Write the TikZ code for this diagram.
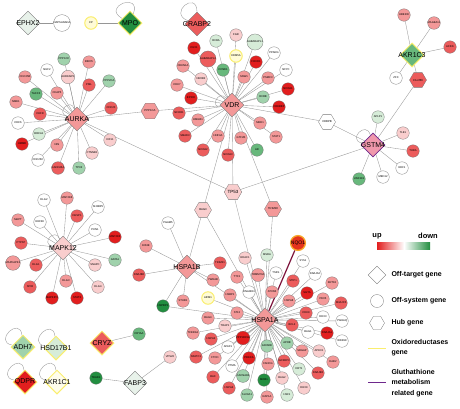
\documentclass[tikz,border=0pt]{standalone}
\usepackage{fontspec}
\setmainfont{Liberation Sans}
\usetikzlibrary{shapes.geometric,backgrounds,positioning}
\definecolor{upA}{RGB}{226,30,30}
\definecolor{upB}{RGB}{236,92,92}
\definecolor{upC}{RGB}{243,152,152}
\definecolor{upD}{RGB}{249,205,205}
\definecolor{dnD}{RGB}{214,236,216}
\definecolor{dnC}{RGB}{160,210,172}
\definecolor{dnB}{RGB}{104,184,124}
\definecolor{dnA}{RGB}{34,142,64}
\definecolor{edgegray}{RGB}{150,150,150}
\definecolor{nodegray}{RGB}{120,120,120}
\definecolor{oxiyellow}{RGB}{250,238,110}
\definecolor{oxifill}{RGB}{255,251,214}
\definecolor{gshpurple}{RGB}{110,40,140}
\definecolor{gshmaroon}{RGB}{125,20,60}
\definecolor{offgreen}{RGB}{232,242,234}

\begin{document}
\begin{tikzpicture}[x=1pt,y=-1pt,
  edge/.style={draw=edgegray, line width=0.35pt},
  gene/.style={circle, draw=nodegray, line width=0.3pt, minimum size=12.5pt, inner sep=0pt, fill=white, font=\fontsize{2.7}{3}\selectfont},
  hub/.style={regular polygon, regular polygon sides=6, draw=nodegray, line width=0.3pt, minimum size=17pt, inner sep=0pt, font=\fontsize{2.8}{3}\selectfont},
  offtarget/.style={diamond, aspect=1, draw=nodegray, line width=0.3pt, minimum size=24pt, inner sep=0pt},
  oxi/.style={draw=oxiyellow, line width=1pt},
  biglabel/.style={font=\fontsize{7}{8}\selectfont},
  legtext/.style={anchor=west, align=left, font=\fontsize{7}{10.5}\bfseries},
  selfloop/.style={edge, loop, min distance=13pt}]
\useasboundingbox (0,0) rectangle (460,408);

% --- isolated pairs on top
\node[offtarget, fill=offgreen, label={[biglabel]center:EPHX2}] (ephx2) at (28,23) {};
\node[gene] (napsa) at (62,23) {NAPSANADA};
\node[gene, oxi, fill=oxifill] (cp) at (91,23) {CP};
\node[offtarget, oxi, fill=dnA, label={[biglabel]center:MPO}] (mpo) at (130,23) {};

% --- AURKA
\node[offtarget, fill=upC, label={[biglabel]center:AURKA}] (aurka) at (77,119) {};
\node[gene, fill=dnC] (ppp1cc) at (64,59) {PPP1CC};
\node[gene] (nuf2) at (47,70) {NUF2};
\node[gene, fill=upD] (aurkaip1) at (68,77) {AURKAIP1};
\node[gene, fill=upC] (birc5) at (89,62) {BIRC5};
\node[gene, fill=upC] (cdc25b) at (25,77) {CDC25B};
\node[gene, fill=upB] (pml) at (89,85) {PML};
\node[gene, fill=dnC] (ppp2ca) at (109,81) {PPP2CA};
\node[gene, fill=dnB] (tacc3) at (36,94) {TACC3};
\node[gene, fill=upC] (ckap5) at (57,93) {CKAP5};
\node[gene, fill=upC] (nme1) at (16,102) {NME1};
\node[gene, fill=upB] (chfr) at (40,114) {CHFR};
\node[gene, fill=upB] (cdc20) at (111,108) {CDC20};
\node[hub, fill=upC] (ppp1ca) at (150,111) {PPP1CA};
\node[gene] (cdc6) at (18,123) {CDC6};
\node[gene, fill=dnD] (brca1) at (39,134) {BRCA1};
\node[gene, fill=upA] (hmmr) at (22,144) {HMMR};
\node[gene, fill=upC] (nin) at (57,145) {NIN};
\node[gene] (cdc25c) at (38,160) {CDC25C};
\node[gene, fill=upB] (gadd45a) at (58,168) {GADD45A};
\node[gene, fill=dnC] (tpx2) at (79,168) {TPX2};
\node[gene, fill=upD] (ctnnb1) at (92,153) {CTNNB1};
\node[gene, fill=upD] (kif11) at (110,140) {KIF11};

% --- VDR
\node[offtarget, fill=upC, label={[biglabel]center:VDR}] (vdr) at (232,105) {};
\node[offtarget, fill=upB, label={[biglabel]center:CRABP2}] (crabp2) at (197,24) {};
\node[gene, fill=dnD] (rxra) at (216,41) {RXRA};
\node[gene, fill=upD] (fgr) at (236,35) {FGR};
\node[gene, fill=dnD] (gabarapla) at (255,42) {GABARAPL1};
\node[gene, oxi, fill=oxifill] (kdm5a) at (236,56) {KDM5A};
\node[gene, fill=upA] (cux1) at (194,48) {CUX1};
\node[gene, fill=upB] (gabaraplb) at (208,59) {GABARAPL2};
\node[gene, fill=upA] (foxo1) at (256,62) {FOXO1};
\node[gene] (pparg) at (274,53) {PPARG};
\node[gene] (nfyc) at (286,70) {NFYC};
\node[gene, fill=upC] (cdkn1a) at (183,66) {CDKN1A};
\node[gene, fill=dnB] (ccnd1) at (223,70) {CCND1};
\node[gene, fill=upD] (nr0b2) at (201,79) {NR0B2};
\node[gene, fill=upC] (snw1) at (244,77) {SNW1};
\node[gene, fill=upC] (psmc3) at (268,78) {PSMC3};
\node[gene, fill=upC] (cdk7) at (177,85) {CDK7};
\node[gene, fill=upA] (ncoa1) at (288,89) {NCOA1};
\node[gene, fill=upA] (ep300) at (191,98) {EP300};
\node[gene, fill=dnC] (rxrb) at (263,97) {RXRB};
\node[gene, fill=upA] (crebbp) at (279,107) {CREBBP};
\node[gene, fill=upB] (ncor1) at (179,113) {NCOR1};
\node[gene, fill=upC] (hmgb1) at (198,120) {HMGB1};
\node[gene, fill=upC] (med1) at (260,123) {MED1};
\node[gene, fill=upB] (smad3) at (185,136) {SMAD3};
\node[gene, fill=upC] (hnf4a) at (218,136) {HNF4A};
\node[gene, fill=upC] (gtf2b) at (241,138) {GTF2B};
\node[gene, fill=upC] (stat1) at (276,137) {STAT1};
\node[gene, fill=upB] (ncoa2) at (203,150) {NCOA2};
\node[gene, fill=upB] (ncoa3) at (228,155) {NCOA3};
\node[gene, fill=dnB] (ar) at (257,150) {AR};
\node[hub, fill=white] (cebpb) at (327,122) {CEBPB};
\node[hub, fill=upD, font=\fontsize{4.5}{5}\selectfont] (tp53) at (233,192) {TP53};
\node[hub, fill=upD] (bag3) at (203,210) {BAG3};
\node[hub, fill=upC] (trim28) at (273,209) {TRIM28};

% --- GSTM4 and AKR1C3
\node[offtarget, draw=gshpurple, line width=0.8pt, fill={rgb,255:red,240;green,152;blue,172}, label={[biglabel]center:GSTM4}] (gstm4) at (373,145) {};
\node[gene, fill=dnD] (aplp1) at (378,117) {APLP1};
\node[gene, fill=upD] (tle1) at (403,133) {TLE1};
\node[gene, fill=upB] (thra) at (413,151) {THRA};
\node[gene] (edf1) at (402,168) {EDF1};
\node[gene] (med12) at (383,177) {MED12};
\node[gene, fill=dnB] (unc119) at (359,179) {UNC119};
\node[hub, fill=upB] (c1orf66) at (418,80) {C1orf66};
\node[offtarget, oxi, fill=dnB, label={[biglabel]center:AKR1C3}] (akr1c3) at (412,55) {};
\node[gene, fill=upC] (ube2w) at (404,15) {UBE2W};
\node[gene, fill=upC] (magea11) at (434,23) {MAGEA11};
\node[gene, fill=upB] (acin1) at (450,47) {ACIN1};
\node[gene] (zfx) at (396,78) {ZFX};

% --- MAPK12
\node[offtarget, fill=upD, label={[biglabel]center:MAPK12}] (mapk12) at (63,248) {};
\node[gene] (dlg2) at (44,200) {DLG2};
\node[gene, fill=upC] (map2k6) at (67,198) {MAP2K6};
\node[gene, fill=upB] (dusp1) at (77,216) {DUSP1};
\node[gene] (sh3bp5) at (98,207) {SH3BP5};
\node[gene, fill=upC] (mapt) at (18,220) {MAPT};
\node[gene] (eef2k) at (40,222) {EEF2K};
\node[gene] (pkn1) at (95,230) {PKN1};
\node[gene, fill=upB] (ptpn7) at (21,243) {PTPN7};
\node[gene, fill=upA] (map2k3) at (115,237) {MAP2K3};
\node[gene, fill=upC] (mapkapk2) at (13,263) {MAPKAPK2};
\node[gene, fill=upB] (dlg1) at (36,265) {DLG1};
\node[gene, fill=upD] (snapc) at (95,265) {SNAPC};
\node[gene, fill=dnC] (gata1) at (115,260) {GATA1};
\node[gene, fill=upB] (spib) at (30,287) {SPIB};
\node[gene, fill=upC] (dlg3) at (66,281) {DLG3};
\node[gene, fill=upA] (mapkip3) at (52,298) {MAPKIP3};
\node[gene, fill=upA] (stat3) at (77,298) {STAT3};
\node[gene, fill=upD] (dlg4) at (98,287) {DLG4};

% --- HSPA1B
\node[offtarget, fill=upC, label={[biglabel]center:HSPA1B}] (hspa1b) at (187,267) {};
\node[gene] (pgam5) at (168,223) {PGAM5};
\node[gene, fill=upC] (eif4e) at (146,246) {EIF4E};
\node[gene, fill=upB] (dnajb6) at (139,275) {DNAJB6};
\node[gene, fill=upB] (trim21) at (220,263) {TRIM21};
\node[gene, fill=upC] (ywhab) at (213,280) {YWHAB};
\node[gene, fill=upC] (stub1) at (183,301) {STUB1};
\node[gene, oxi, fill=oxifill] (aifm1) at (208,298) {AIFM1};
\node[gene, fill=dnA] (hspbp1) at (163,306) {HSPBP1};

% --- HSPA1A
\node[offtarget, fill=upC, label={[biglabel]center:HSPA1A}] (hspa1a) at (265,320) {};
\node[circle, draw={rgb,255:red,248;green,168;blue,40}, line width=1.3pt, fill={rgb,255:red,228;green,52;blue,30}, minimum size=14pt, inner sep=0pt, font=\fontsize{5}{6}\selectfont] (nqo1) at (298,243) {NQO1};
\node[gene, fill=upC] (ttc1) at (237,277) {TTC1};
\node[gene, fill=upC] (tomm70) at (258,275) {TOMM70A};
\node[gene] (tsks) at (276,273) {TSKS};
\node[gene, fill=upC] (hsbp1) at (230,295) {HSBP1};
\node[gene] (dnajb11) at (249,292) {DNAJB11};
\node[gene, fill=upC] (atxn3) at (272,292) {ATXN3};
\node[gene, fill=upB] (stip1) at (293,281) {STIP1};
\node[gene] (dnaja2) at (315,274) {DNAJA2};
\node[gene, fill=upC] (krt18) at (332,283) {KRT18};
\node[gene, fill=upA] (sgta) at (307,293) {SGTA};
\node[gene, fill=upC] (hspa8) at (289,301) {HSPA8};
\node[gene, fill=upC] (pex5) at (323,299) {PEX5};
\node[gene, fill=upB] (dnajc5) at (341,303) {DNAJC5};
\node[gene, fill=upB] (cdk9) at (306,313) {CDK9};
\node[gene] (ddx3) at (323,317) {DDX3};
\node[gene] (ywhaq) at (342,321) {YWHAQ};
\node[gene, fill=upB] (bcl2) at (292,325) {BCL2};
\node[gene] (bag1) at (308,332) {BAG1};
\node[gene, fill=upA] (dnaja1) at (327,333) {DNAJA1};
\node[gene] (wdr18) at (342,341) {WDR18};
\node[gene, fill=dnC] (apob) at (287,343) {APOB};
\node[gene, fill=upC] (srgap) at (302,351) {SRGAP};
\node[gene, fill=upD] (apex1) at (319,351) {APEX1};
\node[gene, fill=upC] (dab2) at (333,362) {DAB2};
\node[gene, fill=upB] (igf2bp3) at (284,361) {IGF2BP3};
\node[gene, fill=dnD] (krt1) at (299,369) {KRT1};
\node[gene, fill=upB] (dnajb3) at (318,373) {DNAJB3};
\node[gene, fill=upD] (bag2) at (282,378) {BAG2};
\node[gene, fill=upD] (dhx9) at (304,388) {DHX9};
\node[gene, fill=dnD] (hsf1) at (287,395) {HSF1};
\node[gene, fill=upC] (rap1a) at (267,397) {RAP1A};
\node[gene, fill=dnA] (mob1) at (264,380) {MOB1};
\node[gene, fill=dnC] (slc9a1) at (247,395) {SLC9A1};
\node[gene, fill=dnC] (cacna1b) at (243,376) {CACNA1B};
\node[gene, fill=dnC] (grin2b) at (267,346) {GRIN2B};
\node[gene, fill=upC] (fancg) at (268,364) {FANCG};
\node[gene] (ptma) at (232,366) {PTMA};
\node[gene, fill=upA] (prkca) at (249,358) {PRKCA};
\node[gene, fill=upC] (ftcd) at (215,358) {FTCD};
\node[gene, fill=upB] (nfatc1) at (196,357) {NFATC1};
\node[gene, fill=upB] (bax) at (213,377) {BAX};
\node[gene, fill=upB] (hspa4) at (229,388) {HSPA4};
\node[gene] (apaf1) at (228,347) {APAF1};
\node[gene, fill=upA] (ppp1r15a) at (243,338) {PPP1R15A};
\node[gene, fill=upB] (hspa2) at (211,339) {HSPA2};
\node[gene, fill=upC] (tcerg1) at (193,333) {TCERG1};
\node[gene, fill=upD] (trap1) at (225,326) {TRAP1};
\node[gene, fill=upC] (bag4) at (208,318) {BAG4};
\node[gene, fill=upC] (st13) at (237,313) {ST13};
\node[gene, fill=upD] (hdac1) at (245,258) {HDAC1};
\node[gene, fill=dnD] (msra) at (267,255) {MSRA};
\node[gene] (sys1) at (303,261) {SYS1};
\node[gene, fill=upD] (vps26) at (170,357) {VPS26};

% --- small groups at the bottom left
\node[offtarget, oxi, fill=dnC, label={[biglabel]center:ADH7}] (adh7) at (23,347) {};
\node[offtarget, oxi, fill=dnD, label={[biglabel]center:HSD17B1}] (hsd17b1) at (56,348) {};
\node[offtarget, oxi, fill=upB, label={[biglabel]center:CRYZ}] (cryz) at (102,343) {};
\node[gene, fill=dnB] (cryaa) at (139,334) {CRYAA};
\node[offtarget, oxi, fill=upA, label={[biglabel]center:QDPR}] (qdpr) at (25,382) {};
\node[offtarget, oxi, fill={rgb,255:red,255;green,253;blue,235}, label={[biglabel]center:AKR1C1}] (akr1c1) at (57,382) {};
\node[offtarget, fill=offgreen, label={[biglabel]center:FABP3}] (fabp3) at (135,383) {};
\node[gene, fill=dnA] (tead1) at (96,378) {TEAD1};

% --- connectors
\begin{scope}[on background layer]
\foreach \g in {ppp1cc,nuf2,aurkaip1,birc5,cdc25b,pml,ppp2ca,tacc3,ckap5,nme1,chfr,cdc20,ppp1ca,cdc6,brca1,hmmr,nin,cdc25c,gadd45a,tpx2,ctnnb1,kif11,tp53}
  \draw[edge] (aurka) -- (\g);
\foreach \g in {rxra,fgr,gabarapla,kdm5a,cux1,gabaraplb,foxo1,pparg,nfyc,cdkn1a,ccnd1,nr0b2,snw1,psmc3,cdk7,ncoa1,ep300,rxrb,crebbp,ppp1ca,ncor1,hmgb1,med1,smad3,hnf4a,gtf2b,stat1,ncoa2,ncoa3,ar,cebpb,tp53,bag3,trim28}
  \draw[edge] (vdr) -- (\g);
\foreach \g in {aplp1,tle1,thra,edf1,med12,unc119,cebpb,c1orf66,tp53}
  \draw[edge] (gstm4) -- (\g);
\foreach \g in {ube2w,magea11,acin1,zfx,c1orf66}
  \draw[edge] (akr1c3) -- (\g);
\foreach \g in {dlg2,map2k6,dusp1,sh3bp5,mapt,eef2k,pkn1,ptpn7,map2k3,mapkapk2,dlg1,snapc,gata1,spib,dlg3,mapkip3,stat3,dlg4}
  \draw[edge] (mapk12) -- (\g);
\foreach \g in {pgam5,eif4e,dnajb6,trim21,ywhab,stub1,hspbp1,bag3,hspa1a}
  \draw[edge] (hspa1b) -- (\g);
\foreach \g in {ttc1,tomm70,tsks,hsbp1,dnajb11,atxn3,stip1,dnaja2,krt18,sgta,hspa8,pex5,dnajc5,cdk9,ddx3,ywhaq,bcl2,bag1,dnaja1,wdr18,apob,srgap,apex1,dab2,igf2bp3,krt1,dnajb3,bag2,dhx9,hsf1,rap1a,mob1,slc9a1,cacna1b,grin2b,fancg,ptma,prkca,ftcd,nfatc1,bax,hspa4,apaf1,ppp1r15a,hspa2,tcerg1,trap1,bag4,st13,hdac1,msra,sys1,tp53,bag3,trim28,aifm1,hspbp1}
  \draw[edge] (hspa1a) -- (\g);
\draw[edge] (ephx2) -- (napsa);
\draw[edge] (cp) -- (mpo);
\draw[edge] (cryz) -- (cryaa);
\draw[edge] (tead1) -- (fabp3);
\draw[edge] (fabp3) -- (vps26);
\draw[gshmaroon, line width=1.2pt] (nqo1) -- (hspa1a);
% self loops
\draw[selfloop] (mpo) to[out=150, in=70, min distance=24pt] (mpo);
\draw[selfloop] (crabp2) to[out=160, in=90, min distance=22pt] (crabp2);
\draw[selfloop] (aurka) to[out=165, in=105] (aurka);
\draw[selfloop] (vdr) to[out=190, in=130] (vdr);
\draw[selfloop] (mapk12) to[out=170, in=110] (mapk12);
\draw[selfloop] (gstm4) to[out=170, in=105, min distance=16pt] (gstm4);
\draw[selfloop] (adh7) to[out=170, in=95, min distance=20pt] (adh7);
\draw[selfloop] (hsd17b1) to[out=170, in=95, min distance=20pt] (hsd17b1);
\draw[selfloop] (qdpr) to[out=170, in=95, min distance=20pt] (qdpr);
\draw[selfloop] (akr1c1) to[out=170, in=95, min distance=20pt] (akr1c1);
\end{scope}

% --- legend
\node[font=\fontsize{7.5}{8}\bfseries] (uplbl) at (377,236) {up};
\node[font=\fontsize{7.5}{8}\bfseries] (downlbl) at (428,236) {down};
\shade[left color=upA, right color=white] (377,242) rectangle (404,249);
\shade[left color=white, right color=dnA] (404,242) rectangle (430,249);
\node[offtarget, minimum size=18pt, fill=white] (legoff) at (377,275) {};
\node[legtext] (legofftxt) at (388,275) {Off-target gene};
\node[gene, minimum size=13pt] (legsys) at (377,301) {};
\node[legtext] (legsystxt) at (388,301) {Off-system gene};
\node[hub, minimum size=15pt, fill=white] (leghub) at (377,323) {};
\node[legtext] (leghubtxt) at (388,323) {Hub gene};
\node[legtext] (legoxitxt) at (388,347.5) {Oxidoreductases\\gene};
\coordinate (oxia) at (368,348);
\coordinate (oxib) at (386,348);
\draw[oxiyellow, line width=0.9pt] (oxia) -- (oxib);
\node[legtext] (leggshtxt) at (388,383) {Gluthathione\\metabolism\\related gene};
\coordinate (gsha) at (368,382);
\coordinate (gshb) at (386,382);
\draw[gshpurple, line width=0.9pt] (gsha) -- (gshb);
\end{tikzpicture}
\end{document}
